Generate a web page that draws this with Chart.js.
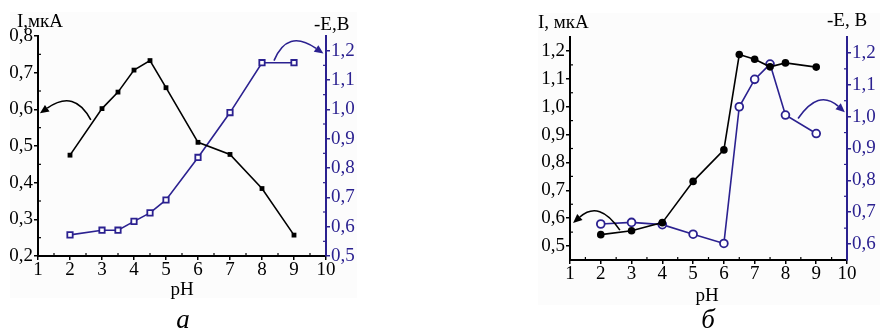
<!DOCTYPE html>
<html>
<head>
<meta charset="utf-8">
<script src="https://cdn.jsdelivr.net/npm/chart.js@4.4.0/dist/chart.umd.min.js"></script>
<style>
  body { margin: 0; background: #fff; width: 880px; height: 331px; overflow: hidden; position: relative; }
  canvas { position: absolute; top: 0; }
  #chartA { left: 0; }
  #chartB { left: 440px; }
</style>
</head>
<body>
<canvas id="chartA" width="440" height="331"></canvas>
<canvas id="chartB" width="440" height="331"></canvas>
<script>
// values (pH, I in мкА, -E in В)
const phA = [2, 3, 3.5, 4, 4.5, 5, 6, 7, 8, 9];
const currentA = [0.475, 0.602, 0.647, 0.707, 0.733, 0.659, 0.51, 0.477, 0.384, 0.257];
const potentialA = [0.572, 0.588, 0.588, 0.618, 0.647, 0.691, 0.836, 0.989, 1.159, 1.159];

const phB = [2, 3, 4, 5, 6, 6.5, 7, 7.5, 8, 9];
const currentB = [0.541, 0.555, 0.584, 0.732, 0.845, 1.187, 1.170, 1.143, 1.157, 1.142];
const potentialB = [0.663, 0.668, 0.661, 0.631, 0.602, 1.031, 1.117, 1.165, 1.005, 0.947];

const phTicks = [1, 2, 3, 4, 5, 6, 7, 8, 9, 10];
const currentTicksA = [0.2, 0.3, 0.4, 0.5, 0.6, 0.7, 0.8];
const potentialTicksA = [0.5, 0.6, 0.7, 0.8, 0.9, 1.0, 1.1, 1.2];
const currentTicksB = [0.5, 0.6, 0.7, 0.8, 0.9, 1.0, 1.1, 1.2];
const potentialTicksB = [0.6, 0.7, 0.8, 0.9, 1.0, 1.1, 1.2];

const FONT = "'Liberation Serif', 'Times New Roman', serif";
const BLUE = '#2b2190';

function comma(v) {
    return v.toFixed(1).replace('.', ',');
}

// small inward ticks between the labelled ones
function drawMinorTicks(ctx, scale, list, color) {
    ctx.save();
    ctx.strokeStyle = color;
    ctx.lineWidth = 1.2;
    for (let i = 0; i < list.length - 1; i++) {
        const p = scale.getPixelForValue((list[i] + list[i + 1]) / 2);
        ctx.beginPath();
        if (scale.axis === 'x') {
            ctx.moveTo(p, scale.top); ctx.lineTo(p, scale.top - 3);
        } else if (scale.position === 'left') {
            ctx.moveTo(scale.right, p); ctx.lineTo(scale.right + 3, p);
        } else {
            ctx.moveTo(scale.left, p); ctx.lineTo(scale.left - 3, p);
        }
        ctx.stroke();
    }
    ctx.restore();
}

// curved pointer arrow, given in data coordinates
function drawArrow(chart, arrow) {
    const ctx = chart.ctx;
    const xs = chart.scales.x, ys = chart.scales[arrow.axis];
    const px = v => [xs.getPixelForValue(v[0]), ys.getPixelForValue(v[1])];
    const a = px(arrow.from), k = px(arrow.peak), b = px(arrow.to);
    const c = [2 * k[0] - (a[0] + b[0]) / 2, 2 * k[1] - (a[1] + b[1]) / 2];
    const ang = Math.atan2(b[1] - c[1], b[0] - c[0]);
    const len = 9, half = 4;
    const base = [b[0] - len * Math.cos(ang), b[1] - len * Math.sin(ang)];
    ctx.save();
    ctx.strokeStyle = arrow.color;
    ctx.fillStyle = arrow.color;
    ctx.lineWidth = 1.6;
    ctx.beginPath();
    ctx.moveTo(a[0], a[1]);
    ctx.quadraticCurveTo(c[0], c[1], base[0], base[1]);
    ctx.stroke();
    ctx.beginPath();
    ctx.moveTo(b[0], b[1]);
    ctx.lineTo(base[0] + half * Math.sin(ang), base[1] - half * Math.cos(ang));
    ctx.lineTo(base[0] - half * Math.sin(ang), base[1] + half * Math.cos(ang));
    ctx.closePath();
    ctx.fill();
    ctx.restore();
}

function makeChart(id, cfg) {
    const decor = {
        id: 'decor',
        beforeDraw(chart) {
            const ctx = chart.ctx;
            ctx.save();
            ctx.fillStyle = '#fcfcfc';
            ctx.fillRect(cfg.panel[0], cfg.panel[1], cfg.panel[2], cfg.panel[3]);
            ctx.restore();
        },
        afterDraw(chart) {
            const ctx = chart.ctx;
            drawMinorTicks(ctx, chart.scales.x, phTicks, '#000');
            drawMinorTicks(ctx, chart.scales.y, cfg.leftTicks, '#000');
            drawMinorTicks(ctx, chart.scales.y1, cfg.rightTicks, BLUE);
            cfg.arrows.forEach(a => drawArrow(chart, a));
            ctx.save();
            ctx.textBaseline = 'middle';
            cfg.texts.forEach(t => {
                ctx.font = t.font;
                ctx.fillStyle = t.color || '#000';
                ctx.textAlign = t.align || 'left';
                ctx.fillText(t.text, t.x, t.y);
            });
            ctx.restore();
        }
    };

    const tickFont = { family: FONT, size: 19 };

    return new Chart(document.getElementById(id), {
        type: 'line',
        data: {
            datasets: [
                {
                    label: 'I',
                    data: cfg.ph.map((p, i) => ({ x: p, y: cfg.current[i] })),
                    yAxisID: 'y',
                    borderColor: '#000',
                    backgroundColor: '#000',
                    borderWidth: 1.6,
                    pointStyle: cfg.pointStyle,
                    pointRadius: cfg.blackRadius,
                    pointBorderWidth: 0,
                    pointBackgroundColor: '#000',
                    tension: 0
                },
                {
                    label: '-E',
                    data: cfg.ph.map((p, i) => ({ x: p, y: cfg.potential[i] })),
                    yAxisID: 'y1',
                    borderColor: BLUE,
                    backgroundColor: '#fff',
                    borderWidth: 1.6,
                    pointStyle: cfg.pointStyle,
                    pointRadius: cfg.blueRadius,
                    pointBorderWidth: 1.8,
                    pointBorderColor: BLUE,
                    pointBackgroundColor: '#fff',
                    tension: 0
                }
            ]
        },
        options: {
            responsive: false,
            animation: false,
            devicePixelRatio: 1,
            layout: { padding: { top: cfg.top, left: 0, right: 0, bottom: 0 } },
            plugins: { legend: { display: false }, tooltip: { enabled: false } },
            scales: {
                x: {
                    type: 'linear',
                    min: 1,
                    max: 10,
                    afterBuildTicks: s => { s.ticks = phTicks.map(v => ({ value: v })); },
                    afterFit: s => { s.height = cfg.xHeight; },
                    grid: { drawOnChartArea: false, color: '#000', tickLength: 4, lineWidth: 1.5 },
                    border: { color: '#000', width: 2 },
                    ticks: { color: '#000', font: tickFont, padding: cfg.xPad, maxRotation: 0, autoSkip: false, callback: v => String(v) }
                },
                y: {
                    position: 'left',
                    min: cfg.leftRange[0],
                    max: cfg.leftRange[1],
                    afterBuildTicks: s => { s.ticks = cfg.leftTicks.map(v => ({ value: v })); },
                    afterFit: s => { s.width = cfg.leftWidth; },
                    grid: { drawOnChartArea: false, color: '#000', tickLength: 4, lineWidth: 1.5 },
                    border: { color: '#000', width: 2 },
                    ticks: { color: '#000', font: tickFont, padding: 1, autoSkip: false, callback: comma }
                },
                y1: {
                    position: 'right',
                    min: cfg.rightRange[0],
                    max: cfg.rightRange[1],
                    afterBuildTicks: s => { s.ticks = cfg.rightTicks.map(v => ({ value: v })); },
                    afterFit: s => { s.width = cfg.rightWidth; },
                    grid: { drawOnChartArea: false, color: BLUE, tickLength: 4, lineWidth: 1.5 },
                    border: { color: BLUE, width: 2 },
                    ticks: { color: BLUE, font: tickFont, padding: 1, autoSkip: false, callback: comma }
                }
            }
        },
        plugins: [decor]
    });
}

const labelFont = `19px ${FONT}`;
const captionFont = `italic 27px ${FONT}`;

makeChart('chartA', {
    ph: phA, current: currentA, potential: potentialA,
    leftTicks: currentTicksA, rightTicks: potentialTicksA,
    leftRange: [0.2, 0.8], rightRange: [0.5, 1.25],
    top: 36, leftWidth: 38, rightWidth: 114, xHeight: 75, xPad: -1,
    pointStyle: 'rect', blackRadius: 3.4, blueRadius: 3.8,
    panel: [10, 12, 347, 286],
    arrows: [
        { axis: 'y', color: '#000', from: [2.65, 0.571], peak: [2.0, 0.618], to: [1.06, 0.589] },
        { axis: 'y1', color: BLUE, from: [8.375, 1.166], peak: [8.97, 1.227], to: [9.92, 1.19] }
    ],
    texts: [
        { text: 'I,мкА', x: 17, y: 22, font: labelFont },
        { text: '-E,В', x: 314, y: 25, font: labelFont },
        { text: 'pH', x: 182, y: 290, font: labelFont, align: 'center' },
        { text: 'а', x: 183, y: 321, font: captionFont, align: 'center' }
    ]
});

makeChart('chartB', {
    ph: phB, current: currentB, potential: potentialB,
    leftTicks: currentTicksB, rightTicks: potentialTicksB,
    leftRange: [0.45, 1.25], rightRange: [0.55, 1.25],
    top: 37, leftWidth: 130, rightWidth: 33, xHeight: 71, xPad: -1,
    pointStyle: 'circle', blackRadius: 3.8, blueRadius: 3.9,
    panel: [98, 13, 342, 292],
    arrows: [
        { axis: 'y', color: '#000', from: [2.62, 0.557], peak: [1.91, 0.618], to: [1.1, 0.583] },
        { axis: 'y1', color: BLUE, from: [8.41, 0.994], peak: [9.12, 1.046], to: [9.93, 1.014] }
    ],
    texts: [
        { text: 'I, мкА', x: 98, y: 23, font: labelFont },
        { text: '-E, В', x: 387, y: 21, font: labelFont },
        { text: 'pH', x: 267, y: 296, font: labelFont, align: 'center' },
        { text: 'б', x: 268, y: 321, font: captionFont, align: 'center' }
    ]
});
</script>
</body>
</html>
